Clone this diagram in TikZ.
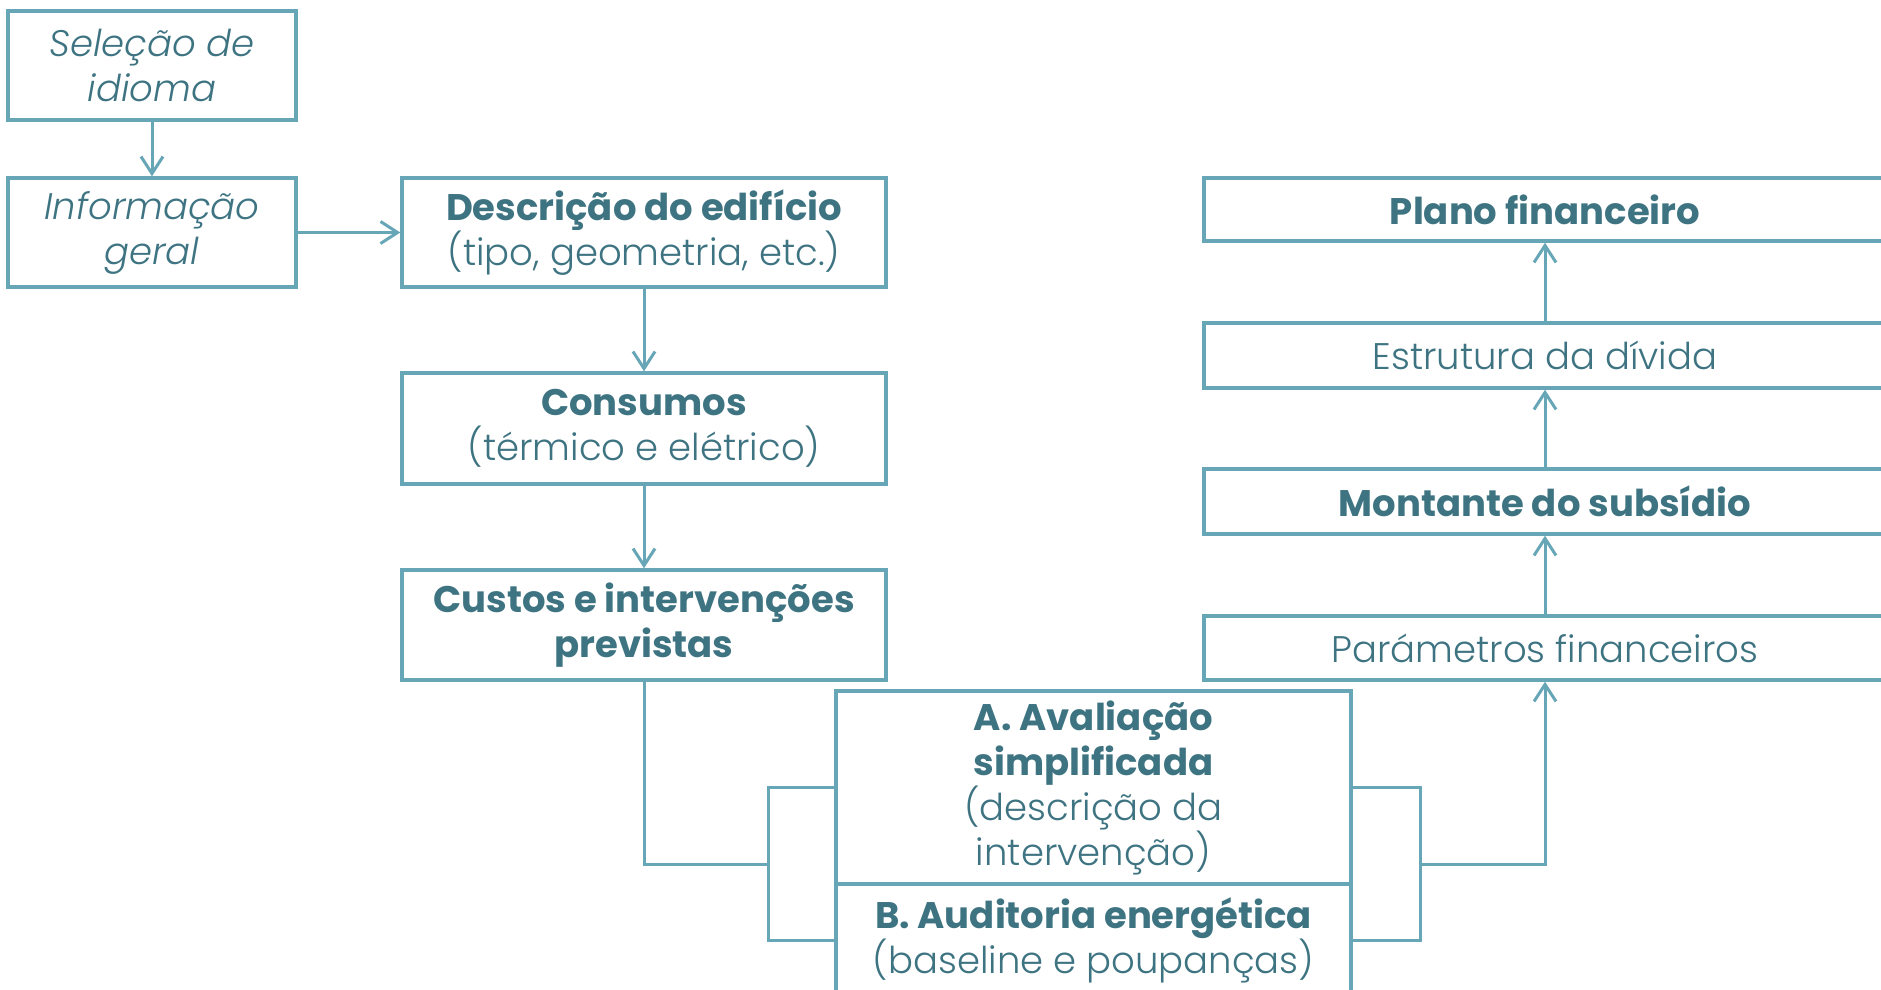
\documentclass[tikz,border=0pt]{standalone}
\usepackage{fontspec}
\setmainfont{Poppins}[UprightFont=* Light, ItalicFont=* Light Italic, BoldFont=* Bold]
\usetikzlibrary{arrows.meta}
\definecolor{bordc}{HTML}{67A6B6}
\definecolor{txtc}{HTML}{3E7482}
\tikzset{
  box/.style={draw=bordc, line width=3.4pt, fill=white, text=txtc, align=center, inner sep=0pt,
    font=\fontsize{37}{45}\selectfont},
  conn/.style={draw=bordc, line width=3pt},
  arr/.style={conn, -{Straight Barb[length=17pt, width=22pt, line width=3pt]}},
}
\begin{document}
\begin{tikzpicture}[x=1pt, y=-1pt]
\useasboundingbox (0,0) rectangle (1881,990);
% left column
\node[box, minimum width=288, minimum height=109] (sel) at (152,65.5) {\itshape Seleção de\\\itshape idioma};
\node[box, minimum width=288, minimum height=109] (inf) at (152,232.5) {\itshape Informação\\\itshape geral};
% middle column
\node[box, minimum width=484, minimum height=109] (desc) at (644,232.5) {\textbf{Descrição do edifício}\\(tipo, geometria, etc.)};
\node[box, minimum width=484, minimum height=111] (cons) at (644,428.5) {\textbf{Consumos}\\(térmico e elétrico)};
\node[box, minimum width=484, minimum height=110] (cust) at (644,625) {\textbf{Custos e intervenções}\\\textbf{previstas}};
% A and B boxes
\node[box, minimum width=515, minimum height=193] (A) at (1093.5,787.5) {\textbf{A. Avaliação}\\\textbf{simplificada}\\(descrição da\\intervenção)};
\node[box, minimum width=515, minimum height=112] (B) at (1093.5,940) {\textbf{B. Auditoria energética}\\(baseline e poupanças)};
% right stack
\node[box, minimum width=682, minimum height=63] (plano) at (1545,209.5) {\textbf{Plano financeiro}};
\node[box, minimum width=682, minimum height=65] (estr) at (1545,355.5) {Estrutura da dívida};
\node[box, minimum width=682, minimum height=65] (mont) at (1545,501.5) {\textbf{Montante do subsídio}};
\node[box, minimum width=682, minimum height=64] (par) at (1545,648) {Parámetros financeiros};
% connectors
\draw[arr] (sel.south) -- (inf.north);
\draw[arr] (inf.east) -- (desc.west);
\draw[arr] (desc.south) -- (cons.north);
\draw[arr] (cons.south) -- (cust.north);
\coordinate (brL) at (768,864);
\coordinate (brR) at (1420,864);
\draw[conn] (A.west) -- (A.west -| brL) -- (B.west -| brL) -- (B.west);
\draw[conn] (A.east) -- (A.east -| brR) -- (B.east -| brR) -- (B.east);
\draw[conn] (cust.south) |- (brL);
\draw[arr] (brR) -| (par.south);
\draw[arr] (par.north) -- (mont.south);
\draw[arr] (mont.north) -- (estr.south);
\draw[arr] (estr.north) -- (plano.south);
\end{tikzpicture}
\end{document}
